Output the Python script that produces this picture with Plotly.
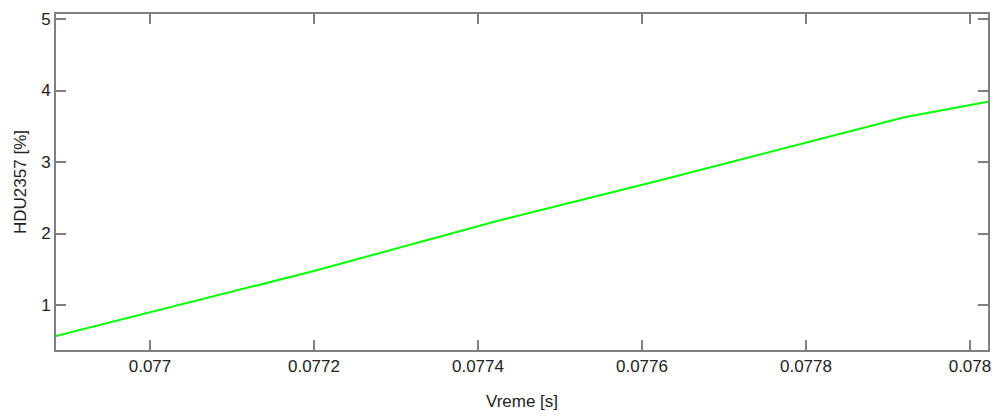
import plotly.graph_objects as go

# Data
vreme_s = [0.076885, 0.0770, 0.0771, 0.0772, 0.07742, 0.07762, 0.07792, 0.078022]
hdu_pct = [0.566, 0.898, 1.19, 1.476, 2.165, 2.738, 3.625, 3.843]

x_tick_vals = [0.077, 0.0772, 0.0774, 0.0776, 0.0778, 0.078]
x_tick_text = ["0.077", "0.0772", "0.0774", "0.0776", "0.0778", "0.078"]
y_tick_vals = [1, 2, 3, 4, 5]
y_tick_text = ["1", "2", "3", "4", "5"]

fig = go.Figure()
fig.add_trace(go.Scatter(
    x=vreme_s, y=hdu_pct, mode="lines",
    line=dict(color="#00ff00", width=2),
    showlegend=False,
))

axis_common = dict(
    showline=True, linecolor="#808080", linewidth=2, mirror="ticks",
    ticks="inside", ticklen=10, tickwidth=2, tickcolor="#808080",
    showgrid=False, zeroline=False, automargin=False,
    tickfont=dict(family="Liberation Sans, Arial", size=17, color="#222222"),
)

fig.update_layout(
    width=995, height=417,
    margin=dict(l=56, r=7, t=14, b=67),
    paper_bgcolor="white", plot_bgcolor="white",
    xaxis=dict(
        range=[0.0768854, 0.078022],
        tickvals=x_tick_vals, ticktext=x_tick_text,
        title=dict(text="Vreme [s]", standoff=20,
                   font=dict(family="Liberation Sans, Arial", size=17, color="#222222")),
        **axis_common,
    ),
    yaxis=dict(
        range=[0.371, 5.07],
        tickvals=y_tick_vals, ticktext=y_tick_text,
        title=dict(text="HDU2357 [%]", standoff=10,
                   font=dict(family="Liberation Sans, Arial", size=17, color="#222222")),
        **axis_common,
    ),
)

fig.write_html(
    "out.html",
    config={"displayModeBar": False},
    post_script="document.body.style.margin='0';document.body.style.overflow='hidden';",
)
